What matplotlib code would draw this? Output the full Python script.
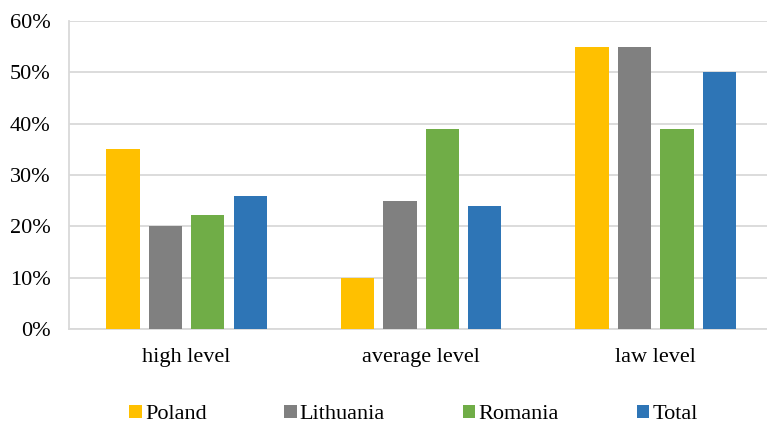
import matplotlib
matplotlib.use("Agg")
import matplotlib.pyplot as plt
import numpy as np

categories = ["high level", "average level", "law level"]
series_names = ["Poland", "Lithuania", "Romania", "Total"]
poland = [35, 10, 55]
lithuania = [20, 25, 55]
romania = [22.2, 39, 39]
total = [26, 24, 50]
y_ticks = [0, 10, 20, 30, 40, 50, 60]
y_tick_labels = ["0%", "10%", "20%", "30%", "40%", "50%", "60%"]

colors = ["#FFC000", "#808080", "#70AD47", "#2E75B6"]

plt.rcParams["font.family"] = ["Liberation Serif", "DejaVu Serif"]

fig = plt.figure(figsize=(7.67, 4.24), dpi=100)
ax = fig.add_axes([0.0903, 0.224, 0.9175, 0.7265])

x = np.arange(len(categories))
step = 0.181
width = 0.142
for i, (name, vals) in enumerate(zip(series_names, [poland, lithuania, romania, total])):
    ax.bar(x + (i - 1.5) * step, vals, width=width, color=colors[i], label=name, zorder=3)

ax.set_xlim(-0.5, 2.5)
ax.set_ylim(0, 60)
ax.set_yticks(y_ticks)
ax.set_yticklabels(y_tick_labels)
ax.set_xticks(x)
ax.set_xticklabels(categories)
ax.tick_params(axis="both", length=0, labelsize=16, colors="#000000")
ax.tick_params(axis="y", pad=13.5)
ax.tick_params(axis="x", pad=14)

ax.yaxis.grid(True, color="#d9d9d9", linewidth=1.3, zorder=0)
ax.set_axisbelow(True)
for s in ["top", "right"]:
    ax.spines[s].set_visible(False)
ax.spines["left"].set_color("#d9d9d9")
ax.spines["left"].set_linewidth(1.3)
ax.spines["bottom"].set_color("#d9d9d9")
ax.spines["bottom"].set_linewidth(1.3)

leg = fig.legend(loc="center", bbox_to_anchor=(0.539, 0.022), ncol=4, frameon=False,
                 fontsize=16, handlelength=0.55, handleheight=0.55, handletextpad=0.15,
                 columnspacing=3.5, borderaxespad=0)

fig.savefig("out.png", dpi=100)
